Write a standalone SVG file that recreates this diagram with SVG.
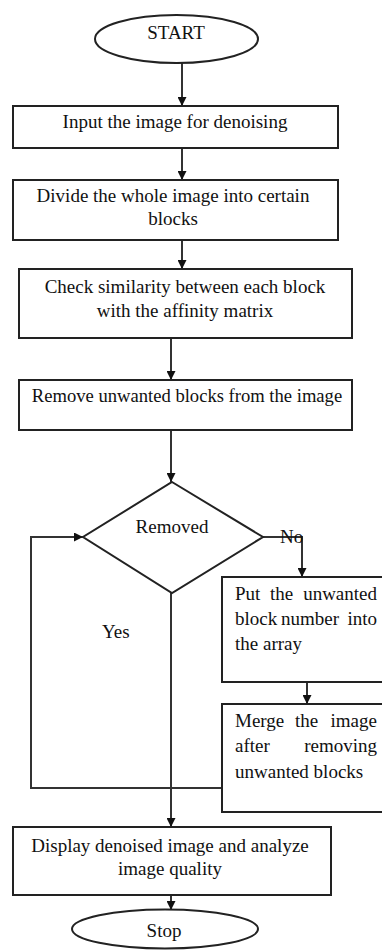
<svg xmlns="http://www.w3.org/2000/svg" width="382" height="950" viewBox="0 0 382 950">
  <style>
    .shape { fill: #fff; stroke: #222; stroke-width: 2; }
    .conn { fill: none; stroke: #333; stroke-width: 2; }
    text { font-family: "Liberation Serif", Tinos, "Times New Roman", "DejaVu Serif", serif; font-size: 19px; fill: #111; }
    .c { text-anchor: middle; }
    .e { text-anchor: end; }
  </style>
  <defs>
    <marker id="arrow" viewBox="0 0 10 10" refX="10" refY="5" markerWidth="9" markerHeight="9" markerUnits="userSpaceOnUse" orient="auto">
      <path d="M0,0 L10,5 L0,10 z" fill="#111"/>
    </marker>
  </defs>

  <g id="connectors">
    <line class="conn" x1="182" y1="63" x2="182" y2="106" marker-end="url(#arrow)"/>
    <line class="conn" x1="182" y1="148" x2="182" y2="180" marker-end="url(#arrow)"/>
    <line class="conn" x1="182" y1="240" x2="182" y2="269" marker-end="url(#arrow)"/>
    <line class="conn" x1="171" y1="338" x2="171" y2="380" marker-end="url(#arrow)"/>
    <line class="conn" x1="171" y1="430" x2="171" y2="482" marker-end="url(#arrow)"/>
    <path class="conn" d="M263,537 H302 V577" marker-end="url(#arrow)"/>
    <line class="conn" x1="307" y1="682" x2="307" y2="704" marker-end="url(#arrow)"/>
    <path class="conn" d="M222,788 H31 V537 H83" marker-end="url(#arrow)"/>
    <line class="conn" x1="171" y1="593" x2="171" y2="827" marker-end="url(#arrow)"/>
    <line class="conn" x1="171" y1="895" x2="171" y2="910" marker-end="url(#arrow)"/>
    <text x="280" y="543">No</text>
    <text x="102" y="638">Yes</text>
  </g>

  <g id="start">
    <ellipse class="shape" cx="176.5" cy="39" rx="81.5" ry="24"/>
    <text class="c" x="176" y="39">START</text>
  </g>

  <g id="input">
    <rect class="shape" x="13" y="106" width="325" height="42"/>
    <text class="c" x="175" y="128">Input the image for denoising</text>
  </g>

  <g id="divide">
    <rect class="shape" x="13" y="180" width="325" height="60"/>
    <text class="c" x="173" y="202">Divide the whole image into certain</text>
    <text class="c" x="173" y="225">blocks</text>
  </g>

  <g id="check">
    <rect class="shape" x="19" y="269" width="333" height="69"/>
    <text class="c" x="185" y="293">Check similarity between each block</text>
    <text class="c" x="185" y="317">with the affinity matrix</text>
  </g>

  <g id="remove">
    <rect class="shape" x="19" y="380" width="333" height="50"/>
    <text class="c" x="187" y="402" style="font-size:18.6px">Remove unwanted blocks from the image</text>
  </g>

  <g id="removed">
    <polygon class="shape" points="172,482 263,537 172,593 83,537"/>
    <text class="c" x="172" y="533">Removed</text>
  </g>

  <!-- justified paragraph: words placed one by one -->
  <g id="put">
    <rect class="shape" x="222" y="577" width="170" height="105"/>
    <text y="600"><tspan x="235">Put</tspan><tspan x="270">the</tspan><tspan x="377" class="e">unwanted</tspan></text>
    <text y="625"><tspan x="235">block</tspan><tspan x="281">number</tspan><tspan x="377" class="e">into</tspan></text>
    <text x="235" y="650">the array</text>
  </g>

  <g id="merge">
    <rect class="shape" x="222" y="704" width="170" height="108"/>
    <text y="727"><tspan x="235">Merge</tspan><tspan x="295">the</tspan><tspan x="377" class="e">image</tspan></text>
    <text y="752"><tspan x="235">after</tspan><tspan x="377" class="e">removing</tspan></text>
    <text x="235" y="778">unwanted blocks</text>
  </g>

  <g id="display">
    <rect class="shape" x="13" y="827" width="318" height="68"/>
    <text class="c" x="170" y="852">Display denoised image and analyze</text>
    <text class="c" x="170" y="875">image quality</text>
  </g>

  <g id="stop">
    <ellipse class="shape" cx="165" cy="929" rx="93" ry="19.5"/>
    <text class="c" x="164" y="937">Stop</text>
  </g>
</svg>
